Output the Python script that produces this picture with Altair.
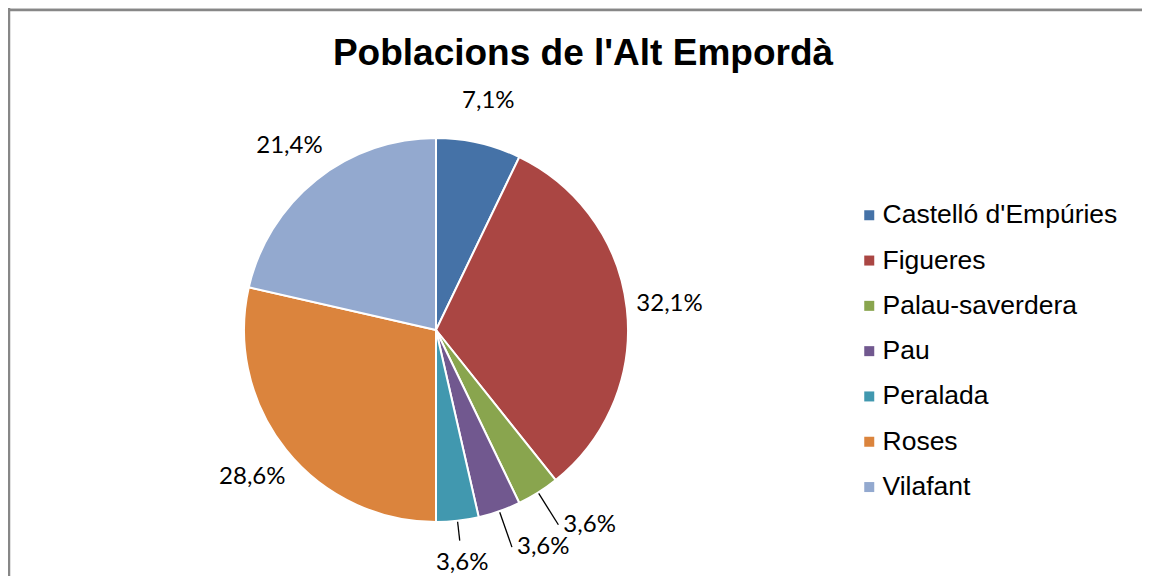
import math
import altair as alt
import pandas as pd

# ---- data -------------------------------------------------------------
names = ["Castelló d'Empúries", "Figueres", "Palau-saverdera", "Pau",
         "Peralada", "Roses", "Vilafant"]
counts = [2, 9, 1, 1, 1, 8, 6]
colors = ["#4572A7", "#AA4643", "#89A54E", "#71588F", "#4198AF",
          "#DB843D", "#93A9CF"]
title_text = "Poblacions de l'Alt Empordà"

# ---- layout / style constants ----------------------------------------
W, H = 1134, 568
CX, CY = 428, 322
R = 192
LABEL_FONT = "Lato"
LEGEND_FONT = "Liberation Sans"

total = sum(counts)
rows = []
start = 0
for i, (n, v) in enumerate(zip(names, counts)):
    pct = v / total * 100
    lbl = f"{pct:.1f}".replace(".", ",") + "%"
    mid = (start + v / 2) / total * 2 * math.pi
    small = pct < 5
    bottom = small and abs(math.sin(mid)) < 0.25
    rows.append(dict(
        idx=i, name=n, value=v,
        big=lbl if not small else "",
        side=lbl if (small and not bottom) else "",
        bottom=lbl if bottom else "",
        mid=mid, small=small, is_bottom=bottom))
    start += v
df = pd.DataFrame(rows)

lead = []
for r in rows:
    if r["small"]:
        r_end = R + (20 if r["is_bottom"] else 38)
        lead.append(dict(
            x1=(R + 1) * math.sin(r["mid"]), y1=-(R + 1) * math.cos(r["mid"]),
            x2=r_end * math.sin(r["mid"]), y2=-r_end * math.cos(r["mid"])))
lead_df = pd.DataFrame(lead)

xs = alt.Scale(domain=[-CX, W - CX], nice=False, zero=False)
ys = alt.Scale(domain=[-CY, H - CY], nice=False, zero=False, reverse=True)

theta = alt.Theta("value:Q", stack=True)
order = alt.Order("idx:Q")

pie = alt.Chart(df).mark_arc(outerRadius=R, stroke="white", strokeWidth=2).encode(
    theta=theta,
    order=order,
    x=alt.value(CX), y=alt.value(CY),
    color=alt.Color("name:N",
                    scale=alt.Scale(domain=names, range=colors),
                    sort=names,
                    legend=alt.Legend(title=None, orient="none",
                                      legendX=848, legendY=194,
                                      symbolType="square", symbolSize=100,
                                      symbolStrokeWidth=0, symbolOpacity=1,
                                      labelFont=LEGEND_FONT, labelFontSize=26.5,
                                      labelColor="#000000", labelOffset=0,
                                      labelLimit=400, rowPadding=18.3,
                                      padding=0)),
)

def text_layer(field, radius, align, dx=0):
    return alt.Chart(df).mark_text(
        radius=radius, align=align, baseline="middle", dx=dx,
        font=LABEL_FONT, fontSize=24, color="#000000").encode(
        theta=theta, order=order,
        x=alt.value(CX), y=alt.value(CY),
        text=f"{field}:N")

big_txt = text_layer("big", 235, "center")
side_txt = text_layer("side", R + 38, "left", dx=5)
bottom_txt = text_layer("bottom", R + 42, "center")

leaders = alt.Chart(lead_df).mark_rule(color="#000000", strokeWidth=1.3).encode(
    x=alt.X("x1:Q", scale=xs, axis=None),
    x2="x2:Q",
    y=alt.Y("y1:Q", scale=ys, axis=None),
    y2="y2:Q",
)

one = pd.DataFrame({"a": [0]})
border_top = alt.Chart(one).mark_rule(color="#878787", strokeWidth=2.5).encode(
    x=alt.value(0), x2=alt.value(W), y=alt.value(2))
border_left = alt.Chart(one).mark_rule(color="#878787", strokeWidth=2.5).encode(
    x=alt.value(1), y=alt.value(0), y2=alt.value(H))

chart = alt.layer(border_top, border_left, pie, leaders,
                  big_txt, side_txt, bottom_txt).properties(
    width=W, height=H,
    padding=0,
    autosize=alt.AutoSizeParams(type="none"),
    title=alt.Title(title_text, font=LEGEND_FONT, fontSize=37,
                    fontWeight="bold", color="#000000", anchor="middle",
                    baseline="alphabetic", offset=-95, dx=8),
).configure_view(stroke=None).configure(background="white")

chart.save("out.html", embed_options={"renderer": "svg", "actions": False})
